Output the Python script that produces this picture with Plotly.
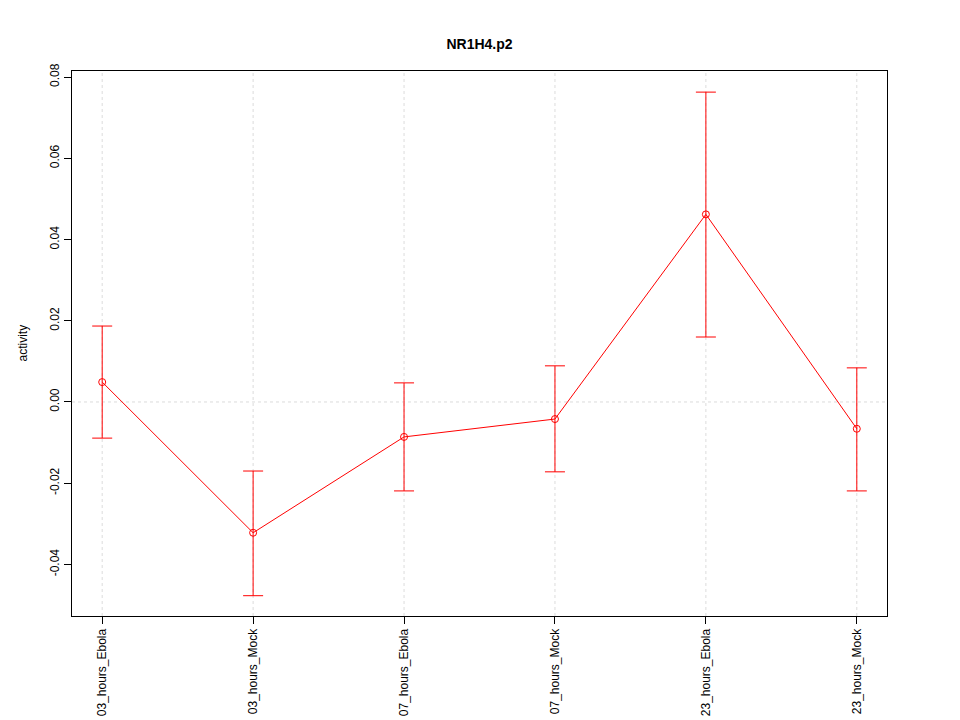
import plotly.graph_objects as go

# Data
samples = ["03_hours_Ebola", "03_hours_Mock", "07_hours_Ebola",
           "07_hours_Mock", "23_hours_Ebola", "23_hours_Mock"]
activity = [0.0049, -0.0322, -0.0086, -0.0042, 0.0462, -0.0066]
upper = [0.0187, -0.0170, 0.0047, 0.0089, 0.0763, 0.0084]
lower = [-0.0089, -0.0477, -0.0219, -0.0172, 0.0160, -0.0219]

err_plus = [u - a for u, a in zip(upper, activity)]
err_minus = [a - l for a, l in zip(activity, lower)]
xpos = list(range(len(samples)))

fig = go.Figure()

# dotted reference lines
for xi in xpos:
    fig.add_shape(type="line", x0=xi, x1=xi, y0=0, y1=1, yref="paper",
                  line={"color": "#dcdcdc", "width": 1, "dash": "dot"}, layer="below")
fig.add_shape(type="line", x0=0, x1=1, xref="paper", y0=0, y1=0,
              line={"color": "#dcdcdc", "width": 1, "dash": "dot"}, layer="below")

fig.add_trace(go.Scatter(
    x=xpos,
    y=activity,
    mode="lines+markers",
    line={"color": "red", "width": 1},
    marker={"symbol": "circle-open", "size": 7, "color": "red",
            "line": {"width": 1, "color": "red"}},
    error_y={
        "type": "data",
        "symmetric": False,
        "array": err_plus,
        "arrayminus": err_minus,
        "color": "red",
        "thickness": 1,
        "width": 10,
    },
    showlegend=False,
))

# page body has an 8px margin, so margins are offset to line up with the reference
fig.update_layout(
    width=960,
    height=720,
    paper_bgcolor="white",
    plot_bgcolor="white",
    font={"family": "Liberation Sans, Arial, sans-serif", "size": 12, "color": "black"},
    title={"text": "<b>NR1H4.p2</b>", "xref": "paper", "x": 0.5, "xanchor": "center",
           "y": 1 - 36 / 720, "yanchor": "middle", "font": {"size": 14},
           "automargin": False},
    margin={"l": 64, "r": 81, "t": 63, "b": 112, "pad": 0, "autoexpand": False},
    xaxis={
        "range": [-0.2, 5.2],
        "tickmode": "array",
        "tickvals": xpos,
        "ticktext": samples,
        "tickangle": -90,
        "ticks": "outside",
        "ticklen": 7,
        "tickcolor": "black",
        "showgrid": False,
        "zeroline": False,
        "showline": True,
        "linecolor": "black",
        "mirror": True,
        "automargin": False,
    },
    yaxis={
        "range": [-0.0527, 0.0815],
        "tickvals": [-0.04, -0.02, 0.0, 0.02, 0.04, 0.06, 0.08],
        "ticktext": ["-0.04", "-0.02", "0.00", "0.02", "0.04", "0.06", "0.08"],
        "tickangle": -90,
        "ticks": "outside",
        "ticklen": 7,
        "tickcolor": "black",
        "showgrid": False,
        "zeroline": False,
        "showline": True,
        "linecolor": "black",
        "mirror": True,
        "automargin": False,
    },
    annotations=[{
        "text": "activity",
        "xref": "paper", "yref": "paper",
        "x": 0, "y": 0.5,
        "xanchor": "center", "yanchor": "middle",
        "xshift": -50,
        "textangle": -90,
        "showarrow": False,
        "font": {"size": 12},
    }],
)

fig.write_html("out.html")
